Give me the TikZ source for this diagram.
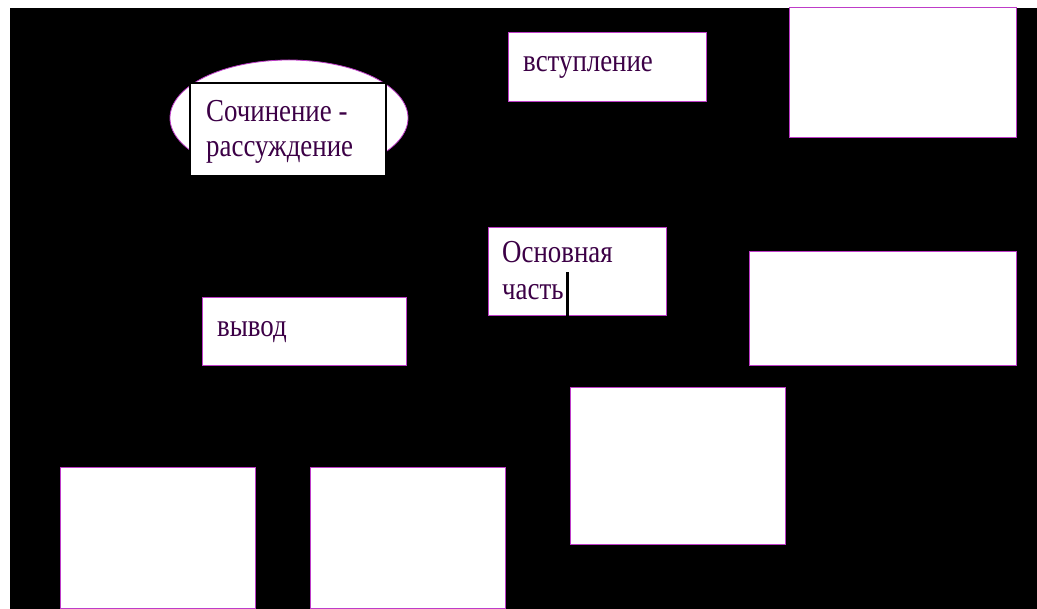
\documentclass[tikz,border=0pt]{standalone}
\usepackage{fontspec}
\setmainfont{Liberation Serif}
\usetikzlibrary{shapes.geometric}
\definecolor{txt}{RGB}{60,0,70}
\definecolor{edge}{RGB}{190,60,200}
\newcommand{\narrow}[1]{\scalebox{0.84}[1]{#1}}
\begin{document}
\begin{tikzpicture}[x=1pt,y=-1pt,
  box/.style={draw=edge, line width=1pt, fill=white, rectangle, anchor=north west, inner sep=0pt, outer sep=0pt},
  lbl/.style={text=txt, font=\fontsize{32}{35}\selectfont, anchor=base west, inner sep=0pt}]
\fill[white] (0,0) rectangle (1037,609);
\fill[black] (10,8) rectangle (1037,609);
\useasboundingbox (0,0) rectangle (1037,609);
\node[ellipse, fill=white, draw=edge, line width=0.8pt, minimum width=238pt, minimum height=116pt, inner sep=0pt] (ell) at (289,118) {};
\node[box, draw=black, line width=2.5pt, minimum width=196pt, minimum height=93pt] (soch) at (190,83) {};
\node[box, minimum width=198pt, minimum height=69pt] (intro) at (508,33) {};
\node[box, minimum width=227pt, minimum height=130pt] (tr) at (789,8) {};
\node[box, minimum width=178pt, minimum height=88pt] (main) at (488,228) {};
\node[box, minimum width=267pt, minimum height=114pt] (rmid) at (749,252) {};
\node[box, minimum width=204pt, minimum height=68pt] (vyvod) at (202,298) {};
\node[box, minimum width=215pt, minimum height=157pt] (mbot) at (570,388) {};
\node[box, minimum width=195pt, minimum height=140pt] (bl1) at (60,468) {};
\node[box, minimum width=195pt, minimum height=140pt] (bl2) at (310,468) {};
\node[lbl] (t1) at (206,122) {\narrow{Сочинение -}};
\node[lbl] (t2) at (206,157) {\narrow{рассуждение}};
\node[lbl] (t3) at (523,72) {\narrow{вступление}};
\node[lbl] (t4) at (502,263) {\narrow{Основная}};
\node[lbl] (t5) at (502,300) {\narrow{часть}};
\node[lbl] (t6) at (217,337) {\narrow{вывод}};
\node[fill=black, minimum width=3pt, minimum height=44pt, inner sep=0pt, anchor=north west] (cur) at (566,272) {};
\end{tikzpicture}
\end{document}
